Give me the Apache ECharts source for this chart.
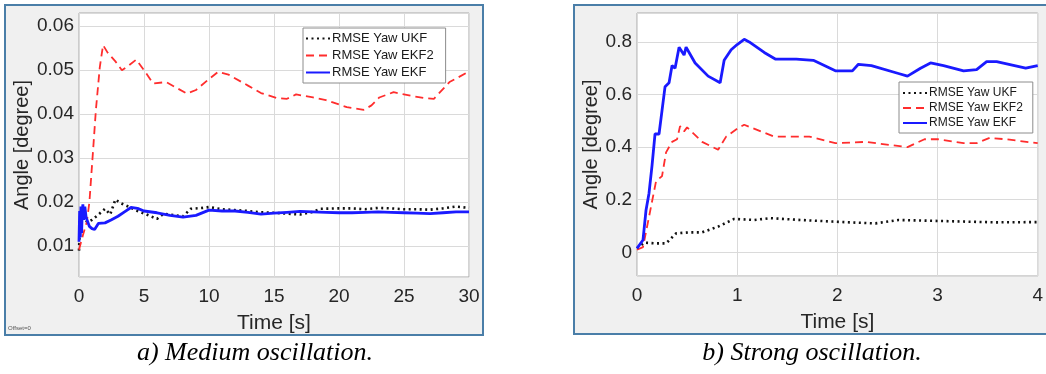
<!DOCTYPE html>
<html>
<head>
<meta charset="utf-8">
<script src="https://cdn.jsdelivr.net/npm/echarts@6/dist/echarts.min.js"></script>
<style>
  html, body { margin: 0; padding: 0; background: #fff; overflow: hidden; }
  #chart { width: 1046px; height: 374px; }
</style>
</head>
<body>
<div id="chart"></div>
<script>
// a) medium oscillation, [time s, rmse degree]
var medUKF = [[0,0.009],[0.1,0.017],[0.2,0.0185],[0.4,0.016],[0.7,0.0155],[1.0,0.016],[1.5,0.0172],[2.0,0.0185],[2.4,0.0172],[2.8,0.0206],[3.2,0.0198],[3.8,0.019],[4.5,0.018],[5.2,0.0172],[6.0,0.0162],[6.5,0.0174],[7.5,0.017],[8.0,0.0168],[8.6,0.0185],[9.5,0.0187],[10,0.0189],[11,0.0184],[12,0.0182],[13,0.018],[14,0.0177],[15,0.0176],[16,0.0174],[17,0.0172],[18,0.0178],[18.6,0.0185],[20,0.0186],[21,0.0186],[22,0.0184],[23,0.0187],[24,0.0186],[25,0.0184],[26,0.0184],[27,0.0183],[28,0.0186],[29,0.019],[30,0.0187]]
var medEKF2 = [[0,0.0092],[0.3,0.0125],[0.6,0.0155],[0.8,0.02],[1.1,0.0325],[1.3,0.041],[1.6,0.0507],[1.85,0.0557],[2.2,0.054],[2.8,0.052],[3.3,0.050],[3.8,0.051],[4.4,0.0524],[5.0,0.050],[5.7,0.047],[6.7,0.0473],[7.5,0.046],[8.3,0.0447],[9.0,0.0455],[10,0.048],[10.7,0.0496],[11.5,0.049],[13,0.0465],[14,0.0448],[15.2,0.0437],[16,0.0435],[16.7,0.0445],[18,0.0438],[19,0.0432],[20,0.0422],[20.6,0.0416],[21.9,0.041],[22.5,0.042],[23.1,0.0438],[24.2,0.045],[25.5,0.0442],[26.5,0.0437],[27.3,0.0435],[28.5,0.0473],[30,0.0497]]
var medEKF = [[0,0.011],[0.05,0.018],[0.1,0.012],[0.15,0.019],[0.2,0.013],[0.25,0.018],[0.3,0.0195],[0.35,0.016],[0.45,0.019],[0.55,0.0165],[0.8,0.0145],[1.0,0.014],[1.2,0.0138],[1.5,0.0152],[2.0,0.0153],[2.5,0.016],[3.0,0.0168],[3.5,0.0178],[4.0,0.0188],[4.5,0.0186],[5.0,0.018],[6.0,0.0176],[7.0,0.017],[8.0,0.0166],[9.0,0.017],[10,0.0182],[11,0.018],[12,0.018],[13,0.0177],[14,0.0173],[15,0.0175],[16,0.0177],[17,0.0179],[18,0.0178],[19,0.0177],[20,0.0176],[21,0.0176],[22,0.0177],[23,0.0178],[24,0.0177],[25,0.0176],[26,0.0175],[27,0.0174],[28,0.0176],[29,0.0178],[30,0.0178]]

// b) strong oscillation
var strUKF = [[0,0.015],[0.075,0.037],[0.19,0.034],[0.29,0.034],[0.39,0.072],[0.52,0.076],[0.65,0.076],[0.81,0.098],[0.97,0.127],[1.17,0.123],[1.33,0.13],[1.63,0.123],[1.95,0.117],[2.18,0.113],[2.38,0.11],[2.61,0.123],[2.93,0.12],[3.26,0.117],[3.59,0.114],[4.0,0.115]]
var strEKF2 = [[0,0.01],[0.06,0.02],[0.12,0.135],[0.19,0.27],[0.25,0.29],[0.29,0.38],[0.35,0.42],[0.40,0.43],[0.43,0.48],[0.47,0.46],[0.5,0.475],[0.65,0.42],[0.81,0.39],[0.89,0.44],[1.0,0.47],[1.07,0.485],[1.37,0.44],[1.72,0.44],[1.98,0.415],[2.28,0.42],[2.70,0.40],[2.87,0.43],[3.0,0.43],[3.26,0.415],[3.39,0.415],[3.52,0.435],[3.68,0.43],[4.0,0.415]]
var strEKF = [[0,0.015],[0.06,0.047],[0.09,0.16],[0.12,0.225],[0.15,0.33],[0.18,0.45],[0.22,0.45],[0.25,0.54],[0.28,0.63],[0.32,0.645],[0.35,0.71],[0.38,0.70],[0.42,0.78],[0.47,0.75],[0.49,0.78],[0.58,0.72],[0.71,0.67],[0.83,0.645],[0.87,0.73],[0.94,0.77],[1.0,0.79],[1.07,0.81],[1.12,0.80],[1.27,0.76],[1.38,0.735],[1.59,0.735],[1.76,0.73],[1.98,0.69],[2.15,0.69],[2.21,0.715],[2.34,0.71],[2.61,0.68],[2.70,0.67],[2.83,0.70],[2.93,0.72],[3.06,0.71],[3.26,0.69],[3.39,0.695],[3.49,0.725],[3.59,0.725],[3.88,0.70],[4.0,0.71]]

var names = ['RMSE Yaw UKF', 'RMSE Yaw EKF2', 'RMSE Yaw EKF']
var captions = ['a) Medium oscillation.', 'b) Strong oscillation.']

var txt = '#262626'
var font = 'Liberation Sans'

function xAx (idx, max, interval) {
  return {
    type: 'value', gridIndex: idx, min: 0, max: max, interval: interval,
    name: 'Time [s]', nameLocation: 'middle', nameGap: 36,
    nameTextStyle: { color: txt, fontSize: 21, fontFamily: font },
    axisLine: { show: false }, axisTick: { show: false },
    axisLabel: { color: txt, fontSize: 19, fontFamily: font, margin: 10 },
    splitLine: { lineStyle: { color: '#dadada', width: 1 } }
  }
}

function yAx (idx, min, max, split, gap) {
  return {
    type: 'value', gridIndex: idx, min: min, max: max, splitNumber: split,
    name: 'Angle [degree]', nameLocation: 'middle', nameGap: gap,
    nameTextStyle: { color: txt, fontSize: 20, fontFamily: font },
    axisLine: { show: false }, axisTick: { show: false },
    axisLabel: { color: txt, fontSize: 19, fontFamily: font, margin: 5, showMinLabel: false, showMaxLabel: false },
    splitLine: { lineStyle: { color: '#dadada', width: 1 } }
  }
}

function ser (name, idx, data, kind) {
  var ls
  if (kind === 0) ls = { color: '#111', width: 2.6, type: [2, 3.5] }
  else if (kind === 1) ls = { color: '#ff2d2d', width: 1.8, type: [8, 5] }
  else ls = { color: '#1a1aff', width: 2.8, type: 'solid' }
  return {
    name: name, type: 'line', xAxisIndex: idx, yAxisIndex: idx, data: data,
    symbol: 'none', showSymbol: false, lineStyle: ls, itemStyle: { color: ls.color },
    animation: false, z: kind === 2 ? 3 : 2
  }
}

function legendBox (idx, left, top, fs, ih, gap, pad) {
  return {
    show: true, orient: 'vertical', left: left, top: top, data: names,
    seriesIndex: idx, selectedMode: false,
    backgroundColor: '#fff', borderColor: '#8c8c8c', borderWidth: 1,
    padding: pad, itemGap: gap, itemWidth: 24, itemHeight: ih,
    itemStyle: { opacity: 0, borderWidth: 0 },
    textStyle: { color: '#1a1a1a', fontSize: fs, fontFamily: font, padding: [0, 0, 0, -3] }
  }
}

var chart = echarts.init(document.getElementById('chart'))
chart.setOption({
  backgroundColor: '#fff',
  animation: false,
  graphic: [
    { type: 'rect', z: -10, shape: { x: 5, y: 5, width: 478, height: 330 }, style: { fill: '#f0f0f0', stroke: '#4a7ea8', lineWidth: 2 } },
    { type: 'rect', z: -10, shape: { x: 574, y: 5, width: 520, height: 329 }, style: { fill: '#f0f0f0', stroke: '#4a7ea8', lineWidth: 2 } },
    { type: 'text', x: 8, y: 325, style: { text: 'Offset=0', fill: '#555', font: '6px "Liberation Sans"' } },
    { type: 'text', x: 255, y: 366, style: { text: captions[0], fill: '#000', font: 'italic 26px "Liberation Serif"', textAlign: 'center', textVerticalAlign: 'bottom' } },
    { type: 'text', x: 812, y: 366, style: { text: captions[1], fill: '#000', font: 'italic 26px "Liberation Serif"', textAlign: 'center', textVerticalAlign: 'bottom' } }
  ],
  grid: [
    { left: 79, top: 13, width: 390, height: 264, show: true, backgroundColor: '#fff', borderColor: '#a8a8a8', borderWidth: 1 },
    { left: 637, top: 13, width: 409, height: 263, show: true, backgroundColor: '#fff', borderColor: '#a8a8a8', borderWidth: 1 }
  ],
  xAxis: [xAx(0, 30, 5), xAx(1, 4, 1)],
  yAxis: [yAx(0, 0.003, 0.063, 6, 47), yAx(1, -0.09, 0.91, 5, 36)],
  legend: [
    legendBox(0, 303, 28, 13, 14, 4, [4, 12, 4, 2]),
    legendBox(1, 899, 82, 12, 12, 3, [5, 10, 4, 3])
  ],
  series: [
    ser(names[0], 0, medUKF, 0),
    ser(names[1], 0, medEKF2, 1),
    ser(names[2], 0, medEKF, 2),
    ser(names[0], 1, strUKF, 0),
    ser(names[1], 1, strEKF2, 1),
    ser(names[2], 1, strEKF, 2)
  ]
})
</script>
</body>
</html>
